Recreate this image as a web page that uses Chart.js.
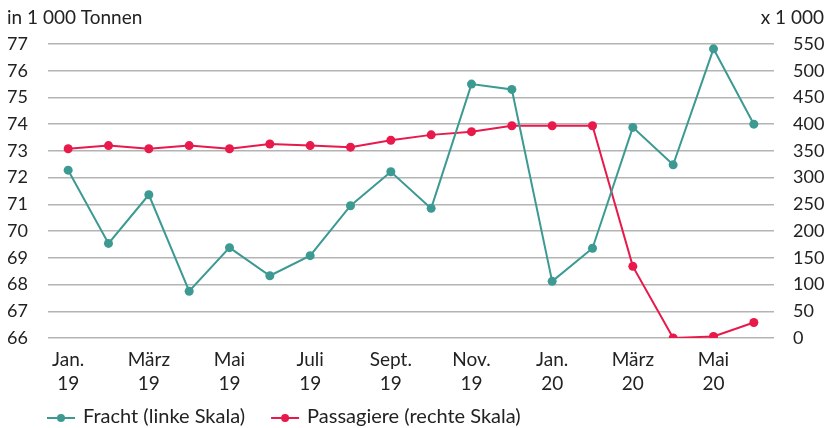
<!DOCTYPE html>
<html>
<head>
<meta charset="utf-8">
<script src="https://cdn.jsdelivr.net/npm/chart.js@4.4.1/dist/chart.umd.min.js"></script>
<style>
  html, body { margin: 0; padding: 0; background: #fff; }
</style>
</head>
<body>
<canvas id="chartVerkehr" width="828" height="428"></canvas>
<script>
const months = [
  ["Jan.", "19"], ["Feb.", "19"], ["März", "19"], ["Apr.", "19"], ["Mai", "19"], ["Juni", "19"],
  ["Juli", "19"], ["Aug.", "19"], ["Sept.", "19"], ["Okt.", "19"], ["Nov.", "19"], ["Dez.", "19"],
  ["Jan.", "20"], ["Feb.", "20"], ["März", "20"], ["Apr.", "20"], ["Mai", "20"], ["Juni", "20"]
];
// Fracht in 1 000 Tonnen (linke Skala)
const fracht = [72.28, 69.54, 71.36, 67.75, 69.38, 68.33, 69.08, 70.95, 72.22, 70.85, 75.5, 75.3,
  68.12, 69.36, 73.88, 72.48, 76.82, 74.0];
// Passagiere x 1 000 (rechte Skala)
const passagiere = [354, 360, 354, 360, 354, 363, 360, 357, 370, 380, 386, 397,
  397, 397, 134, 0, 3, 29];

const linksMin = 66, linksMax = 77;
const rechtsMin = 0, rechtsMax = 550, rechtsStep = 50;

const fracht_color = "#3c9a93";
const pass_color = "#e8194b";
const font = "Lato, 'Open Sans', sans-serif";

const extras = {
  id: "achsenTitel",
  afterDraw(chart) {
    const ctx = chart.ctx;
    ctx.save();
    ctx.fillStyle = "#222";
    ctx.font = "19px " + font;
    ctx.textBaseline = "middle";
    ctx.textAlign = "left";
    ctx.fillText("in 1 000 Tonnen", 7, 18);
    ctx.textAlign = "right";
    ctx.fillText("x 1 000", 824, 18);

    // legend: line with dot, then text
    ctx.font = "20px " + font;
    let x = 47;
    const y = 418;
    chart.data.datasets.forEach((ds) => {
      ctx.strokeStyle = ds.borderColor;
      ctx.fillStyle = ds.borderColor;
      ctx.lineWidth = 2;
      ctx.beginPath();
      ctx.moveTo(x, y);
      ctx.lineTo(x + 28, y);
      ctx.stroke();
      ctx.beginPath();
      ctx.arc(x + 14, y, 4, 0, Math.PI * 2);
      ctx.fill();
      ctx.fillStyle = "#222";
      ctx.textAlign = "left";
      ctx.fillText(ds.label, x + 36, y - 1);
      x += 36 + ctx.measureText(ds.label).width + 26;
    });
    ctx.restore();
  },
};

const ctx = document.getElementById("chartVerkehr");
new Chart(ctx, {
  type: "line",
  data: {
    labels: months,
    datasets: [
      {
        label: "Fracht (linke Skala)",
        data: fracht,
        yAxisID: "links",
        borderColor: fracht_color,
        backgroundColor: fracht_color,
        borderWidth: 2,
        pointRadius: 4.5,
        pointBorderWidth: 0,
        tension: 0,
      },
      {
        label: "Passagiere (rechte Skala)",
        data: passagiere,
        yAxisID: "rechts",
        borderColor: pass_color,
        backgroundColor: pass_color,
        borderWidth: 2,
        pointRadius: 4.5,
        pointBorderWidth: 0,
        tension: 0,
      },
    ],
  },
  options: {
    responsive: false,
    animation: false,
    layout: { padding: { top: 44, left: 7, right: 0, bottom: 0 } },
    plugins: {
      legend: { display: false },
      tooltip: { enabled: false },
    },
    scales: {
      x: {
        offset: true,
        grid: { display: false, drawTicks: false },
        border: { display: false },
        ticks: {
          autoSkip: false,
          maxRotation: 0,
          padding: 10,
          color: "#222",
          font: { family: font, size: 19, lineHeight: 1.25 },
          callback: function (val, i) {
            return i % 2 === 0 ? months[i] : "";
          },
        },
        afterFit(scale) { scale.height = 90; },
      },
      links: {
        position: "left",
        min: linksMin,
        max: linksMax,
        border: { display: false },
        grid: { color: "#b4b4b4", lineWidth: 1.5, drawTicks: false },
        ticks: {
          stepSize: 1,
          crossAlign: "far",
          padding: 0,
          color: "#222",
          font: { family: font, size: 18 },
        },
        afterFit(scale) { scale.width = 41; },
      },
      rechts: {
        position: "right",
        min: rechtsMin,
        max: rechtsMax,
        border: { display: false },
        grid: { display: false, drawTicks: false },
        ticks: {
          stepSize: rechtsStep,
          padding: 19,
          color: "#222",
          font: { family: font, size: 18 },
        },
        afterFit(scale) { scale.width = 54; },
      },
    },
  },
  plugins: [extras],
});
</script>
</body>
</html>
